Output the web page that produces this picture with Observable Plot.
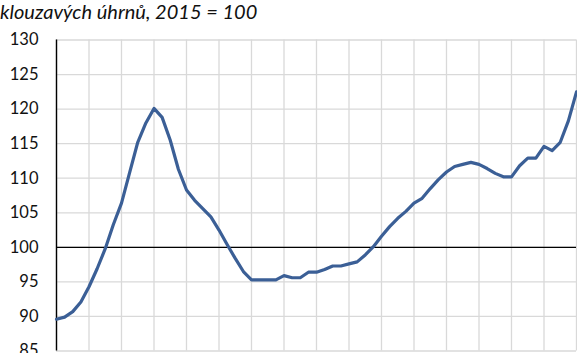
<!DOCTYPE html>
<html>
<head>
<meta charset="utf-8">
<script src="https://cdn.jsdelivr.net/npm/d3@7"></script>
<script src="https://cdn.jsdelivr.net/npm/@observablehq/plot@0.6"></script>
<style>
  html, body { margin: 0; padding: 0; background: #fff; overflow: hidden; }
  #title { font-family: Lato, "Open Sans", sans-serif; font-style: italic; font-size: 20px; height: 24px; line-height: 22px; color: #111; white-space: nowrap; padding-left: 0; }
</style>
</head>
<body>
<div id="title">klouzavých úhrnů, 2015 = 100</div>
<div id="chart"></div>
<script>
// Quarterly index values (moving totals, 2015 = 100)
const values = [
  89.6, 89.9, 90.7, 92.1, 94.3, 96.9, 99.8, 103.3,
  106.4, 110.8, 115.2, 118.0, 120.1, 118.8, 115.5, 111.3,
  108.3, 106.8, 105.6, 104.4, 102.5, 100.4, 98.4, 96.5,
  95.3, 95.3, 95.3, 95.3, 95.9, 95.6, 95.6, 96.4,
  96.4, 96.8, 97.3, 97.3, 97.6, 97.9, 98.9, 100.1,
  101.6, 103.0, 104.2, 105.2, 106.4, 107.1, 108.5, 109.8,
  110.9, 111.7, 112.0, 112.3, 112.0, 111.4, 110.7, 110.2,
  110.2, 111.8, 112.9, 112.9, 114.6, 114.0, 115.2, 118.3,
  122.5
];
const quarters = values.map((_, i) => i);
const yearTicks = d3.range(0, 65, 4);
const yTicks = [85, 90, 95, 100, 105, 110, 115, 120, 125, 130];

const data = quarters.map((q, i) => ({q, v: values[i]}));

const chart = Plot.plot({
  width: 577,
  height: 340,
  marginLeft: 56,
  marginRight: 1,
  marginTop: 15.5,
  marginBottom: 13.5,
  x: {domain: [0, 64], axis: null},
  y: {domain: [85, 130], axis: null},
  style: {fontFamily: "Lato, 'Open Sans', sans-serif", background: "#fff"},
  marks: [
    Plot.ruleX(yearTicks, {stroke: "#d9d9d9", strokeWidth: 1.3}),
    Plot.ruleY(yTicks, {stroke: "#d9d9d9", strokeWidth: 1.3}),
    Plot.ruleY([100], {stroke: "#000", strokeWidth: 1.4}),
    Plot.ruleX([0], {stroke: "#000", strokeWidth: 1.4}),
    Plot.axisY({ticks: yTicks, label: null, tickSize: 0, tickPadding: 18, fontSize: 16.5, fill: "#111", tickFormat: d => String(d)}),
    Plot.line(data, {x: "q", y: "v", stroke: "#3b5f96", strokeWidth: 3.2, strokeLinejoin: "round", strokeLinecap: "round"})
  ]
});
document.getElementById("chart").appendChild(chart);
</script>
</body>
</html>
